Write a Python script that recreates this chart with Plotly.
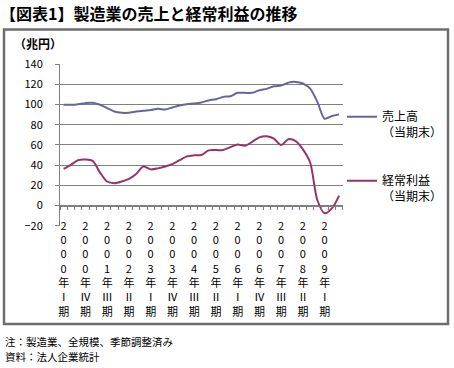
import plotly.graph_objects as go

# ---- data ----
quarters = [
    "2000年Ⅰ期", "2000年Ⅱ期", "2000年Ⅲ期", "2000年Ⅳ期",
    "2001年Ⅰ期", "2001年Ⅱ期", "2001年Ⅲ期", "2001年Ⅳ期",
    "2002年Ⅰ期", "2002年Ⅱ期", "2002年Ⅲ期", "2002年Ⅳ期",
    "2003年Ⅰ期", "2003年Ⅱ期", "2003年Ⅲ期", "2003年Ⅳ期",
    "2004年Ⅰ期", "2004年Ⅱ期", "2004年Ⅲ期", "2004年Ⅳ期",
    "2005年Ⅰ期", "2005年Ⅱ期", "2005年Ⅲ期", "2005年Ⅳ期",
    "2006年Ⅰ期", "2006年Ⅱ期", "2006年Ⅲ期", "2006年Ⅳ期",
    "2007年Ⅰ期", "2007年Ⅱ期", "2007年Ⅲ期", "2007年Ⅳ期",
    "2008年Ⅰ期", "2008年Ⅱ期", "2008年Ⅲ期", "2008年Ⅳ期",
    "2009年Ⅰ期", "2009年Ⅱ期", "2009年Ⅲ期",
]
sales = [99.7, 99.7, 100.3, 101.3, 101.6, 99.7, 96.4, 93.0, 91.8, 91.8,
         93.0, 93.8, 94.4, 95.7, 95.0, 97.0, 99.0, 100.3, 101.0, 102.0,
         104.0, 105.2, 107.5, 108.2, 111.5, 111.5, 111.5, 114.0, 115.4, 118.0,
         118.7, 121.6, 122.3, 120.7, 115.7, 102.6, 85.9, 88.5, 90.2]
profit = [36.4, 40.3, 44.9, 45.5, 44.2, 32.9, 23.8, 22.2, 23.8, 26.4,
          31.3, 38.7, 35.8, 36.8, 38.7, 41.0, 44.9, 48.7, 49.7, 50.0,
          54.6, 54.9, 54.9, 57.8, 60.4, 59.1, 63.0, 67.5, 68.5, 66.2,
          59.8, 65.6, 63.7, 55.6, 42.6, 5.3, -7.6, -2.8, 9.9]
series_names = ["売上高<br>（当期末）", "経常利益<br>（当期末）"]
series_colors = ["#666699", "#993366"]
y_ticks = [-20, 0, 20, 40, 60, 80, 100, 120, 140]
label_step = 3

title_text = "【図表1】製造業の売上と経常利益の推移"
unit_text = "（兆円）"
note_text = "注：製造業、全規模、季節調整済み"
source_text = "資料：法人企業統計"

# ---- build ----
W, H = 454, 368
FONT = "Noto Sans CJK JP, Noto Sans, sans-serif"
GRAY = "#808080"
FRAME = "#6e6e6e"

idx = list(range(len(quarters)))
tick_idx = idx[::label_step]
tick_text = ["<br>".join(list(quarters[i])) for i in tick_idx]

x_left, x_right = 60, 342.75
y_top, y_bot = 64, 225.8
ydom = [1 - y_bot / H, 1 - y_top / H]
y_min, y_max = y_ticks[0], y_ticks[-1]
zero_pos = ydom[0] + (0 - y_min) / (y_max - y_min) * (ydom[1] - ydom[0])

# outer frame box (pixels)
fx0, fx1, fy0, fy1 = 4, 448, 29.5, 324

fig = go.Figure()
fig.add_trace(go.Scatter(x=idx, y=sales, mode="lines", name=series_names[0],
                         line=dict(color=series_colors[0], width=2, shape="spline", smoothing=0.8),
                         legend="legend", hoverinfo="skip"))
fig.add_trace(go.Scatter(x=idx, y=profit, mode="lines", name=series_names[1],
                         line=dict(color=series_colors[1], width=2, shape="spline", smoothing=0.8),
                         legend="legend2", hoverinfo="skip"))

fig.update_layout(
    template="none",
    width=W, height=H, autosize=False,
    margin=dict(l=0, r=0, t=0, b=0, pad=0),
    paper_bgcolor="white", plot_bgcolor="rgba(0,0,0,0)",
    font=dict(family=FONT, size=11, color="black"),
    title=dict(text="<b>" + title_text + "</b>", x=0, xanchor="left",
               y=1 - 14 / H, yanchor="middle", xref="paper", yref="container",
               font=dict(size=16, family=FONT, color="black"), automargin=False),
    xaxis=dict(domain=[x_left / W, x_right / W], range=[-0.5, len(quarters) - 0.5],
               anchor="free", position=zero_pos, automargin=False,
               tickvals=tick_idx, ticktext=tick_text, ticks="",
               showline=True, linecolor=GRAY, linewidth=1,
               showgrid=False, zeroline=False,
               minor=dict(tickvals=[i - 0.5 for i in range(len(quarters) + 1)],
                          ticks="outside", ticklen=3, tickcolor=GRAY, tickwidth=1, showgrid=False),
               tickfont=dict(size=11), ticklabelstandoff=10, fixedrange=True),
    yaxis=dict(domain=ydom, range=[y_min, y_max], tickvals=y_ticks, automargin=False,
               showgrid=True, gridcolor=GRAY, gridwidth=1,
               showline=True, linecolor=GRAY, linewidth=1,
               ticks="outside", ticklen=4, tickcolor=GRAY,
               zeroline=False, tickfont=dict(size=11), ticklabelstandoff=10,
               anchor="x", fixedrange=True),
    legend=dict(x=342 / W, y=1 - 102.5 / H, xanchor="left", yanchor="top",
                bgcolor="rgba(0,0,0,0)", borderwidth=0, font=dict(size=12),
                itemwidth=30, valign="top"),
    legend2=dict(x=342 / W, y=1 - 166.5 / H, xanchor="left", yanchor="top",
                 bgcolor="rgba(0,0,0,0)", borderwidth=0, font=dict(size=12),
                 itemwidth=30, valign="top"),
    shapes=[dict(type="rect", xref="paper", yref="paper",
                 x0=fx0 / W, x1=fx1 / W, y0=1 - fy1 / H, y1=1 - fy0 / H,
                 line=dict(color=FRAME, width=2.5), layer="above")],
    annotations=[
        dict(text="<b>" + unit_text + "</b>", x=12 / W, y=1 - 44 / H, xref="paper", yref="paper",
             xanchor="left", yanchor="middle", showarrow=False, font=dict(size=12)),
        dict(text=note_text, x=3 / W, y=1 - 341 / H, xref="paper", yref="paper",
             xanchor="left", yanchor="middle", showarrow=False, font=dict(size=10.5)),
        dict(text=source_text, x=3 / W, y=1 - 356 / H, xref="paper", yref="paper",
             xanchor="left", yanchor="middle", showarrow=False, font=dict(size=10.5)),
    ],
    showlegend=True,
)

fig.write_html("out.html", config=dict(displayModeBar=False, staticPlot=True),
               post_script="document.body.style.margin='0';document.body.style.padding='0';")
